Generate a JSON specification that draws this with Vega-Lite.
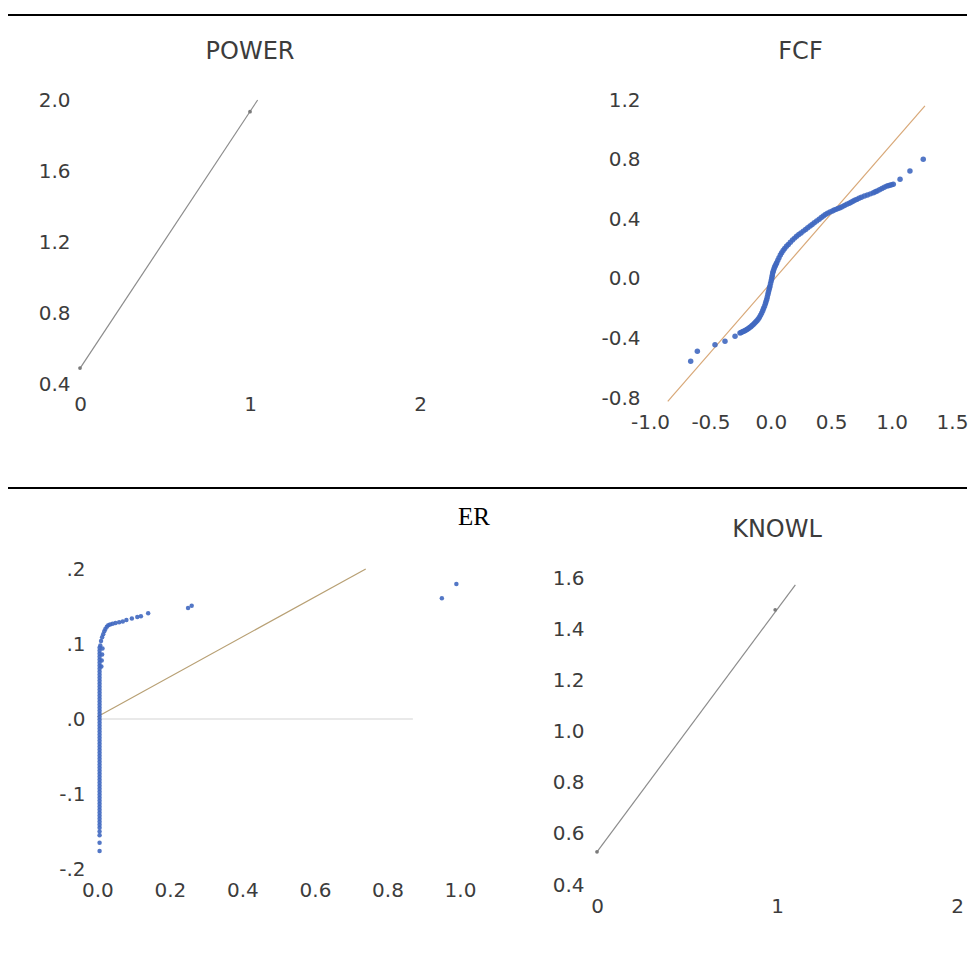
{
  "$schema": "https://vega.github.io/schema/vega-lite/v6.json",
  "background": "white",
  "padding": {"left": 7, "top": 14, "right": 0, "bottom": 5},
  "columns": 2,
  "align": "each",
  "bounds": "flush",
  "spacing": {"row": 81, "column": 137},
  "config": {
    "view": {"stroke": null},
    "axis": {"domain": false, "ticks": false, "grid": false, "labelFont": "DejaVu Sans", "labelFontSize": 20, "labelColor": "#3c3c3c", "labelFlush": false, "labelOverlap": false, "labelBound": false},
    "title": {"font": "DejaVu Sans", "fontSize": 24, "fontWeight": "normal", "color": "#3c3c3c"}
  },
  "concat": [
    {
      "width": 380, "height": 4,
      "data": {"values": [{"a": 0}]},
      "mark": {"type": "rule", "color": "black", "strokeWidth": 2},
      "encoding": {
        "x": {"datum": -0.18947, "type": "quantitative", "scale": {"domain": [0, 1], "nice": false, "zero": false}, "axis": null},
        "x2": {"datum": 1.36053},
        "y": {"datum": 1, "type": "quantitative", "scale": {"domain": [0, 1], "nice": false}, "axis": null}
      }
    },
    {
      "width": 370, "height": 4,
      "data": {"values": [{"a": 0}]},
      "mark": {"type": "rule", "color": "black", "strokeWidth": 2},
      "encoding": {
        "x": {"datum": 0, "type": "quantitative", "scale": {"domain": [0, 1], "nice": false, "zero": false}, "axis": null},
        "x2": {"datum": 1},
        "y": {"datum": 1, "type": "quantitative", "scale": {"domain": [0, 1], "nice": false}, "axis": null}
      }
    },
    {
      "width": 340, "height": 284,
      "title": {"text": "POWER", "frame": "group", "anchor": "middle", "baseline": "alphabetic", "offset": 7},
      "encoding": {
        "x": {"field": "x", "type": "quantitative", "scale": {"domain": [0, 2], "nice": false, "zero": false}, "axis": {"values": [0, 1, 2], "labelExpr": "format(datum.value, 'd')", "labelOverlap": false, "labelPadding": 10, "title": null}},
        "y": {"field": "y", "type": "quantitative", "scale": {"domain": [0.4, 2.0], "nice": false, "zero": false}, "axis": {"values": [0.4, 0.8, 1.2, 1.6, 2.0], "labelExpr": "replace(format(datum.value, '.1f'), '\u2212', '-')", "labelPadding": 10, "title": null}}
      },
      "layer": [
        {"data": {"values": [{"x": 0, "y": 0.488}, {"x": 1.045, "y": 2.0}]}, "mark": {"type": "line", "color": "#8c8c8c", "strokeWidth": 1.2}},
        {"data": {"values": [{"x": 0, "y": 0.49}, {"x": 1, "y": 1.934}]}, "mark": {"type": "circle", "color": "#7a7a7a", "size": 14, "opacity": 1}}
      ]
    },
    {
      "width": 355, "height": 298,
      "title": {"text": "FCF", "frame": "group", "anchor": "middle", "baseline": "alphabetic", "offset": 7, "dx": 26},
      "encoding": {
        "x": {"field": "x", "type": "quantitative", "scale": {"domain": [-1.4387, 1.5], "nice": false, "zero": false}, "axis": {"values": [-1.0, -0.5, 0.0, 0.5, 1.0, 1.5], "labelExpr": "replace(format(datum.value, '.1f'), '\u2212', '-')", "labelPadding": 14, "title": null}},
        "y": {"field": "y", "type": "quantitative", "scale": {"domain": [-0.8, 1.2], "nice": false, "zero": false}, "axis": {"values": [-0.8, -0.4, 0.0, 0.4, 0.8, 1.2], "labelExpr": "replace(format(datum.value, '.1f'), '\u2212', '-')", "labelPadding": 10, "offset": -53, "title": null}}
      },
      "layer": [
        {"data": {"values": [{"x": -0.853, "y": -0.823}, {"x": 1.276, "y": 1.16}]}, "mark": {"type": "line", "color": "#d8a878", "strokeWidth": 1.2}},
        {"data": {"values": [
          {"x": -0.663, "y": -0.554}, {"x": -0.608, "y": -0.487}, {"x": -0.462, "y": -0.442}, {"x": -0.379, "y": -0.419}, {"x": -0.296, "y": -0.386},
          {"x": -0.255, "y": -0.363}, {"x": -0.235, "y": -0.356}, {"x": -0.215, "y": -0.348}, {"x": -0.195, "y": -0.338}, {"x": -0.175, "y": -0.327},
          {"x": -0.155, "y": -0.314}, {"x": -0.135, "y": -0.298}, {"x": -0.115, "y": -0.281}, {"x": -0.095, "y": -0.26}, {"x": -0.075, "y": -0.229},
          {"x": -0.06, "y": -0.2}, {"x": -0.045, "y": -0.168}, {"x": -0.034, "y": -0.139}, {"x": -0.024, "y": -0.105}, {"x": -0.015, "y": -0.075},
          {"x": -0.007, "y": -0.05}, {"x": 0.003, "y": -0.015}, {"x": 0.01, "y": 0.012}, {"x": 0.016, "y": 0.04}, {"x": 0.026, "y": 0.065},
          {"x": 0.037, "y": 0.088}, {"x": 0.049, "y": 0.108}, {"x": 0.068, "y": 0.142}, {"x": 0.09, "y": 0.175}, {"x": 0.115, "y": 0.204},
          {"x": 0.145, "y": 0.231}, {"x": 0.18, "y": 0.26}, {"x": 0.214, "y": 0.286}, {"x": 0.25, "y": 0.308}, {"x": 0.288, "y": 0.331},
          {"x": 0.325, "y": 0.354}, {"x": 0.36, "y": 0.376}, {"x": 0.4, "y": 0.4}, {"x": 0.435, "y": 0.421}, {"x": 0.47, "y": 0.44},
          {"x": 0.51, "y": 0.455}, {"x": 0.54, "y": 0.466}, {"x": 0.573, "y": 0.477}, {"x": 0.61, "y": 0.492}, {"x": 0.65, "y": 0.507},
          {"x": 0.68, "y": 0.52}, {"x": 0.711, "y": 0.533}, {"x": 0.75, "y": 0.547}, {"x": 0.8, "y": 0.562}, {"x": 0.849, "y": 0.578},
          {"x": 0.88, "y": 0.59}, {"x": 0.92, "y": 0.606}, {"x": 0.959, "y": 0.622}, {"x": 0.985, "y": 0.628}, {"x": 1.014, "y": 0.634},
          {"x": 1.07, "y": 0.668}, {"x": 1.152, "y": 0.723}, {"x": 1.262, "y": 0.802},
          {"x": -0.245, "y": -0.36}, {"x": -0.225, "y": -0.352}, {"x": -0.205, "y": -0.343}, {"x": -0.185, "y": -0.333}, {"x": -0.165, "y": -0.321},
          {"x": -0.145, "y": -0.306}, {"x": -0.125, "y": -0.29}, {"x": -0.105, "y": -0.271}, {"x": -0.085, "y": -0.245}, {"x": -0.067, "y": -0.215},
          {"x": -0.052, "y": -0.184}, {"x": -0.04, "y": -0.154}, {"x": -0.029, "y": -0.122}, {"x": -0.02, "y": -0.09}, {"x": -0.011, "y": -0.062},
          {"x": -0.002, "y": -0.032}, {"x": 0.007, "y": -0.001}, {"x": 0.013, "y": 0.026}, {"x": 0.021, "y": 0.053}, {"x": 0.031, "y": 0.077},
          {"x": 0.043, "y": 0.098}, {"x": 0.058, "y": 0.125}, {"x": 0.079, "y": 0.159}, {"x": 0.102, "y": 0.19}, {"x": 0.13, "y": 0.218},
          {"x": 0.162, "y": 0.246}, {"x": 0.197, "y": 0.273}, {"x": 0.232, "y": 0.297}, {"x": 0.269, "y": 0.32}, {"x": 0.306, "y": 0.343},
          {"x": 0.342, "y": 0.365}, {"x": 0.38, "y": 0.388}, {"x": 0.418, "y": 0.411}, {"x": 0.452, "y": 0.431}, {"x": 0.49, "y": 0.448},
          {"x": 0.525, "y": 0.461}, {"x": 0.556, "y": 0.472}, {"x": 0.59, "y": 0.484}, {"x": 0.63, "y": 0.5}, {"x": 0.665, "y": 0.514},
          {"x": 0.695, "y": 0.527}, {"x": 0.73, "y": 0.54}, {"x": 0.775, "y": 0.555}, {"x": 0.825, "y": 0.57}, {"x": 0.865, "y": 0.584},
          {"x": 0.9, "y": 0.598}, {"x": 0.94, "y": 0.614}, {"x": 0.972, "y": 0.625}, {"x": 1.0, "y": 0.631}
        ]}, "mark": {"type": "circle", "color": "#4068c0", "size": 30, "opacity": 0.9}}
      ]
    },
    {
      "width": 380, "height": 9,
      "data": {"values": [{"a": 0}]},
      "mark": {"type": "rule", "color": "black", "strokeWidth": 2},
      "encoding": {
        "x": {"datum": -0.18947, "type": "quantitative", "scale": {"domain": [0, 1], "nice": false, "zero": false}, "axis": null},
        "x2": {"datum": 1.36053},
        "y": {"datum": 0, "type": "quantitative", "scale": {"domain": [0, 1], "nice": false}, "axis": null}
      }
    },
    {
      "width": 370, "height": 9,
      "data": {"values": [{"a": 0}]},
      "mark": {"type": "rule", "color": "black", "strokeWidth": 2},
      "encoding": {
        "x": {"datum": 0, "type": "quantitative", "scale": {"domain": [0, 1], "nice": false, "zero": false}, "axis": null},
        "x2": {"datum": 1},
        "y": {"datum": 0, "type": "quantitative", "scale": {"domain": [0, 1], "nice": false}, "axis": null}
      }
    },
    {
      "width": 380, "height": 300,
      "title": {"text": "ER", "frame": "group", "anchor": "end", "baseline": "alphabetic", "offset": 9, "dx": 30, "font": "Liberation Serif", "fontSize": 25, "color": "#000000"},
      "encoding": {
        "x": {"field": "x", "type": "quantitative", "scale": {"domain": [-0.048, 1.0], "nice": false, "zero": false}, "axis": {"values": [0.0, 0.2, 0.4, 0.6, 0.8, 1.0], "format": ".1f", "labelPadding": 11, "title": null}},
        "y": {"field": "y", "type": "quantitative", "scale": {"domain": [-0.2, 0.2], "nice": false, "zero": false}, "axis": {"values": [-0.2, -0.1, 0.0, 0.1, 0.2], "labelExpr": "replace(replace(format(datum.value, '.1f'), '0.', '.'), '\u2212', '-')", "labelPadding": 10, "offset": -15, "title": null}}
      },
      "layer": [
        {"data": {"values": [{"x": 0.0, "y": 0}, {"x": 0.87, "y": 0}]}, "mark": {"type": "line", "color": "#e2e2e2", "strokeWidth": 1.5}},
        {"data": {"values": [{"x": 0.0, "y": 0.003}, {"x": 0.74, "y": 0.2}]}, "mark": {"type": "line", "color": "#b8a074", "strokeWidth": 1.2}},
        {"data": {"values": [
          {"x": 0.006, "y": -0.176}, {"x": 0.006, "y": -0.165}, {"x": 0.006, "y": -0.155}, {"x": 0.006, "y": -0.15},
          {"x": 0.006, "y": -0.145}, {"x": 0.006, "y": -0.137}, {"x": 0.006, "y": -0.129}, {"x": 0.006, "y": -0.121}, {"x": 0.006, "y": -0.113},
          {"x": 0.006, "y": -0.105}, {"x": 0.006, "y": -0.097}, {"x": 0.006, "y": -0.089}, {"x": 0.006, "y": -0.081}, {"x": 0.006, "y": -0.073},
          {"x": 0.006, "y": -0.065}, {"x": 0.006, "y": -0.057}, {"x": 0.006, "y": -0.049}, {"x": 0.006, "y": -0.041}, {"x": 0.006, "y": -0.033},
          {"x": 0.006, "y": -0.025}, {"x": 0.006, "y": -0.017}, {"x": 0.006, "y": -0.009}, {"x": 0.006, "y": -0.001}, {"x": 0.006, "y": 0.007},
          {"x": 0.006, "y": 0.015}, {"x": 0.006, "y": 0.023}, {"x": 0.006, "y": 0.031}, {"x": 0.006, "y": 0.039}, {"x": 0.006, "y": 0.047},
          {"x": 0.006, "y": 0.055}, {"x": 0.006, "y": 0.063}, {"x": 0.006, "y": 0.071}, {"x": 0.006, "y": 0.079}, {"x": 0.006, "y": 0.087},
          {"x": 0.006, "y": 0.095},
          {"x": 0.006, "y": -0.141}, {"x": 0.006, "y": -0.133}, {"x": 0.006, "y": -0.125}, {"x": 0.006, "y": -0.117}, {"x": 0.006, "y": -0.109},
          {"x": 0.006, "y": -0.101}, {"x": 0.006, "y": -0.093}, {"x": 0.006, "y": -0.085}, {"x": 0.006, "y": -0.077}, {"x": 0.006, "y": -0.069},
          {"x": 0.006, "y": -0.061}, {"x": 0.006, "y": -0.053}, {"x": 0.006, "y": -0.045}, {"x": 0.006, "y": -0.037}, {"x": 0.006, "y": -0.029},
          {"x": 0.006, "y": -0.021}, {"x": 0.006, "y": -0.013}, {"x": 0.006, "y": -0.005}, {"x": 0.006, "y": 0.003}, {"x": 0.006, "y": 0.011},
          {"x": 0.006, "y": 0.019}, {"x": 0.006, "y": 0.027}, {"x": 0.006, "y": 0.035}, {"x": 0.006, "y": 0.043}, {"x": 0.006, "y": 0.051},
          {"x": 0.006, "y": 0.059}, {"x": 0.006, "y": 0.067}, {"x": 0.006, "y": 0.075}, {"x": 0.006, "y": 0.083}, {"x": 0.006, "y": 0.091},
          {"x": 0.011, "y": 0.07}, {"x": 0.012, "y": 0.078}, {"x": 0.013, "y": 0.086}, {"x": 0.014, "y": 0.094},
          {"x": 0.008, "y": 0.098}, {"x": 0.01, "y": 0.104}, {"x": 0.013, "y": 0.109}, {"x": 0.016, "y": 0.113}, {"x": 0.019, "y": 0.117},
          {"x": 0.022, "y": 0.12}, {"x": 0.026, "y": 0.123}, {"x": 0.03, "y": 0.125}, {"x": 0.035, "y": 0.126}, {"x": 0.042, "y": 0.127},
          {"x": 0.05, "y": 0.128}, {"x": 0.06, "y": 0.129}, {"x": 0.07, "y": 0.13}, {"x": 0.08, "y": 0.132}, {"x": 0.095, "y": 0.134},
          {"x": 0.11, "y": 0.136}, {"x": 0.12, "y": 0.137}, {"x": 0.14, "y": 0.141}, {"x": 0.25, "y": 0.148}, {"x": 0.26, "y": 0.151},
          {"x": 0.95, "y": 0.161}, {"x": 0.99, "y": 0.18}
        ]}, "mark": {"type": "circle", "color": "#4068c0", "size": 20, "opacity": 0.9}}
      ]
    },
    {
      "width": 360, "height": 316,
      "title": {"text": "KNOWL", "frame": "group", "anchor": "middle", "baseline": "alphabetic", "offset": 7},
      "encoding": {
        "x": {"field": "x", "type": "quantitative", "scale": {"domain": [0, 2], "nice": false, "zero": false}, "axis": {"values": [0, 1, 2], "labelExpr": "format(datum.value, 'd')", "labelOverlap": false, "labelPadding": 11, "title": null}},
        "y": {"field": "y", "type": "quantitative", "scale": {"domain": [0.4, 1.637], "nice": false, "zero": false}, "axis": {"values": [0.4, 0.6, 0.8, 1.0, 1.2, 1.4, 1.6], "labelExpr": "replace(format(datum.value, '.1f'), '\u2212', '-')", "labelPadding": 13, "title": null}}
      },
      "layer": [
        {"data": {"values": [{"x": 0, "y": 0.53}, {"x": 1.102, "y": 1.575}]}, "mark": {"type": "line", "color": "#8c8c8c", "strokeWidth": 1.2}},
        {"data": {"values": [{"x": 0, "y": 0.53}, {"x": 0.99, "y": 1.477}]}, "mark": {"type": "circle", "color": "#7a7a7a", "size": 14, "opacity": 1}}
      ]
    }
  ]
}
